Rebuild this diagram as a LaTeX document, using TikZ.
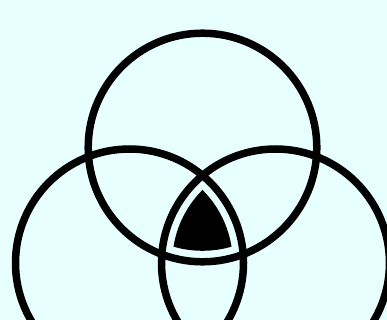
\documentclass[tikz,border=0pt]{standalone}
\definecolor{bg}{RGB}{232,255,255}
\begin{document}
\begin{tikzpicture}[x=1pt,y=-1pt,
  ring/.style={draw=black,line width=7.5pt}]
\fill[bg] (0,0) rectangle (387,320);
\useasboundingbox (0,0) rectangle (387,320);
\coordinate (T) at (202.5,147.5);
\coordinate (L) at (129.5,263);
\coordinate (R) at (275.5,263);
\begin{scope}
  \clip (T) circle[radius=103.3];
  \clip (L) circle[radius=103.3];
  \fill[black] (R) circle[radius=103.3];
\end{scope}
\draw[ring] (T) circle[radius=114.3];
\draw[ring] (L) circle[radius=114];
\draw[ring] (R) circle[radius=114];
\end{tikzpicture}
\end{document}
